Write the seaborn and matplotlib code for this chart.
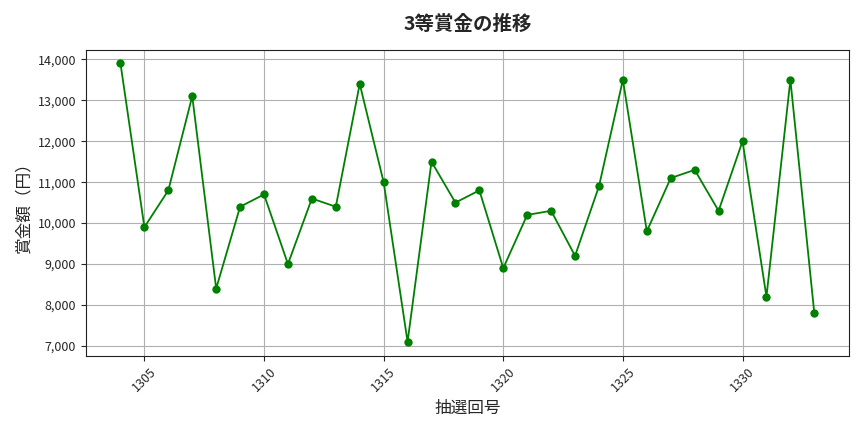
import pandas as pd
import seaborn as sns
import matplotlib.pyplot as plt
from matplotlib.ticker import FuncFormatter

draws = list(range(1304, 1334))
prize = [13900, 9900, 10800, 13100, 8400, 10400, 10700, 9000, 10600, 10400,
         13400, 11000, 7100, 11500, 10500, 10800, 8900, 10200, 10300, 9200,
         10900, 13500, 9800, 11100, 11300, 10300, 12000, 8200, 13500, 7800]

title = "3等賞金の推移"
xlabel = "抽選回号"
ylabel = "賞金額（円）"


def main():
    df = pd.DataFrame({"draw": draws, "prize": prize})

    sns.set_style("ticks")
    plt.rcParams['font.family'] = ['Noto Sans CJK JP', 'DejaVu Sans']

    fig, ax = plt.subplots(figsize=(8.64, 4.32), dpi=100)
    sns.lineplot(data=df, x="draw", y="prize", color="green", marker="o",
                 markersize=6, markeredgewidth=0, linewidth=1.3, ax=ax)

    ax.grid(True, color="#b0b0b0", linewidth=0.8)
    for s in ax.spines.values():
        s.set_color("#222222")
    ax.yaxis.set_major_formatter(FuncFormatter(lambda v, p: f"{int(v):,}"))
    ax.set_xlabel(xlabel, fontsize=12)
    ax.set_ylabel(ylabel, fontsize=12)
    ax.set_title(title, fontsize=14, fontweight="bold", pad=14)
    ax.tick_params(axis="x", rotation=45, labelsize=9)
    ax.tick_params(axis="y", labelsize=9)

    plt.tight_layout()
    plt.savefig("out.png")
    plt.close()


if __name__ == "__main__":
    main()
